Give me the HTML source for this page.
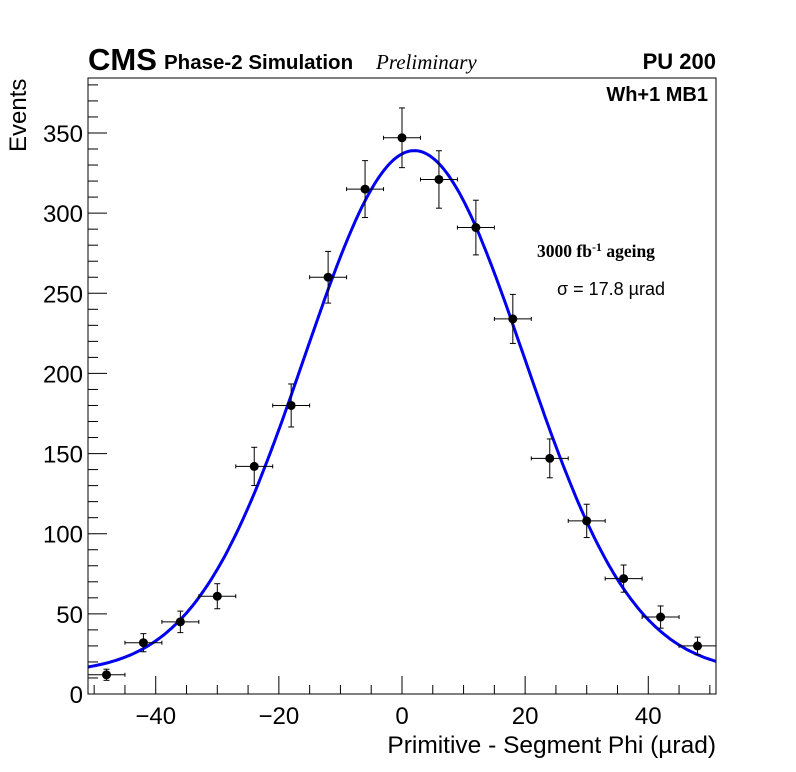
<!DOCTYPE html>
<html><head><meta charset="utf-8"><style>
body{margin:0;background:#fff;}
svg{display:block;font-family:"Liberation Sans",sans-serif;}
</style></head><body>
<svg id="c" width="796" height="772">
<rect x="0" y="0" width="796" height="772" fill="#fff"/>
<text x="88" y="70" font-size="31" font-weight="bold">CMS</text>
<text x="164" y="69" font-size="20.5" font-weight="bold">Phase-2 Simulation</text>
<text x="376" y="69" font-size="21" font-style="italic" font-family="Liberation Serif,serif">Preliminary</text>
<text x="716" y="69" font-size="22" font-weight="bold" text-anchor="end">PU 200</text>
<text x="708" y="101" font-size="20" font-weight="bold" text-anchor="end">Wh+1 MB1</text>
<text x="537" y="257" font-size="17.5" font-weight="bold" font-family="Liberation Serif,serif">3000 fb<tspan dy="-6" font-size="12">-1</tspan><tspan dy="6"> ageing</tspan></text>
<text x="557" y="295" font-size="18">σ = 17.8 µrad</text>
<text x="716" y="753" font-size="24.5" text-anchor="end">Primitive - Segment Phi (µrad)</text>
<text transform="translate(26,152) rotate(-90)" font-size="24">Events</text>
<g id="axes"></g>
<g id="marks"></g>
<rect x="88" y="78" width="628" height="616" fill="none" stroke="#000" stroke-width="1"/>
</svg>
<script>
const xCenters=[-48,-42,-36,-30,-24,-18,-12,-6,0,6,12,18,24,30,36,42,48];
const counts=[12,32,45,61,142,180,260,315,347,321,291,234,147,108,72,48,30];
const xTickLabels=[-40,-20,0,20,40];
const yTickLabels=[0,50,100,150,200,250,300,350];
const fitAmp=[326], fitMean=[2], fitSigma=[17.8], fitConst=[13];
const X0=-51,X1=51,Y0=0,Y1=384.3;
const L=88,R=716,T=78,B=694;
const sx=v=>L+(v-X0)/(X1-X0)*(R-L);
const sy=v=>B-(v-Y0)/(Y1-Y0)*(B-T);
const NS="http://www.w3.org/2000/svg";
function mk(tag,attrs,parent){const e=document.createElementNS(NS,tag);for(const k in attrs)e.setAttribute(k,attrs[k]);parent.appendChild(e);return e;}
const ax=document.getElementById('axes'),mg=document.getElementById('marks');
for(let v=-50;v<=50;v+=5){const big=v%20===0;const t=mk('line',{x1:sx(v),x2:sx(v),y1:B,y2:B-(big?18:9),stroke:'#000'},ax);

}
xTickLabels.forEach(v=>{const t=mk('text',{x:sx(v),y:B+30,'font-size':24,'text-anchor':'middle'},ax);t.textContent=(v<0?'−':'')+Math.abs(v);

});
for(let v=0;v<=380;v+=10){const big=v%50===0;const t=mk('line',{x1:L,x2:L+(big?19:10),y1:sy(v),y2:sy(v),stroke:'#000'},ax);

}
yTickLabels.forEach(v=>{const t=mk('text',{x:83,y:sy(v)+9,'font-size':24,'text-anchor':'end'},ax);t.textContent=v;

});
let d='';for(let i=0;i<=300;i++){const x=X0+(X1-X0)*i/300;const y=fitConst[0]+fitAmp[0]*Math.exp(-((x-fitMean[0])**2)/(2*fitSigma[0]**2));d+=(i?'L':'M')+sx(x).toFixed(1)+','+sy(y).toFixed(1);}
const fp=mk('path',{d:d,fill:'none',stroke:'#0000ee','stroke-width':3},mg);


xCenters.forEach((x,i)=>{const v=counts[i],e=Math.sqrt(v);const g=mk('g',{},mg);


const cx=sx(x),cy=sy(v);
mk('line',{x1:sx(x-3),x2:sx(x+3),y1:cy,y2:cy,stroke:'#000'},g);
mk('line',{x1:sx(x-3),x2:sx(x-3),y1:cy-2,y2:cy+2,stroke:'#000'},g);
mk('line',{x1:sx(x+3),x2:sx(x+3),y1:cy-2,y2:cy+2,stroke:'#000'},g);
mk('line',{x1:cx,x2:cx,y1:sy(v+e),y2:sy(v-e),stroke:'#000'},g);
mk('line',{x1:cx-3,x2:cx+3,y1:sy(v+e),y2:sy(v+e),stroke:'#000'},g);
mk('line',{x1:cx-3,x2:cx+3,y1:sy(v-e),y2:sy(v-e),stroke:'#000'},g);
mk('circle',{cx:cx,cy:cy,r:4.5,fill:'#000'},g);});
</script>
</body></html>
